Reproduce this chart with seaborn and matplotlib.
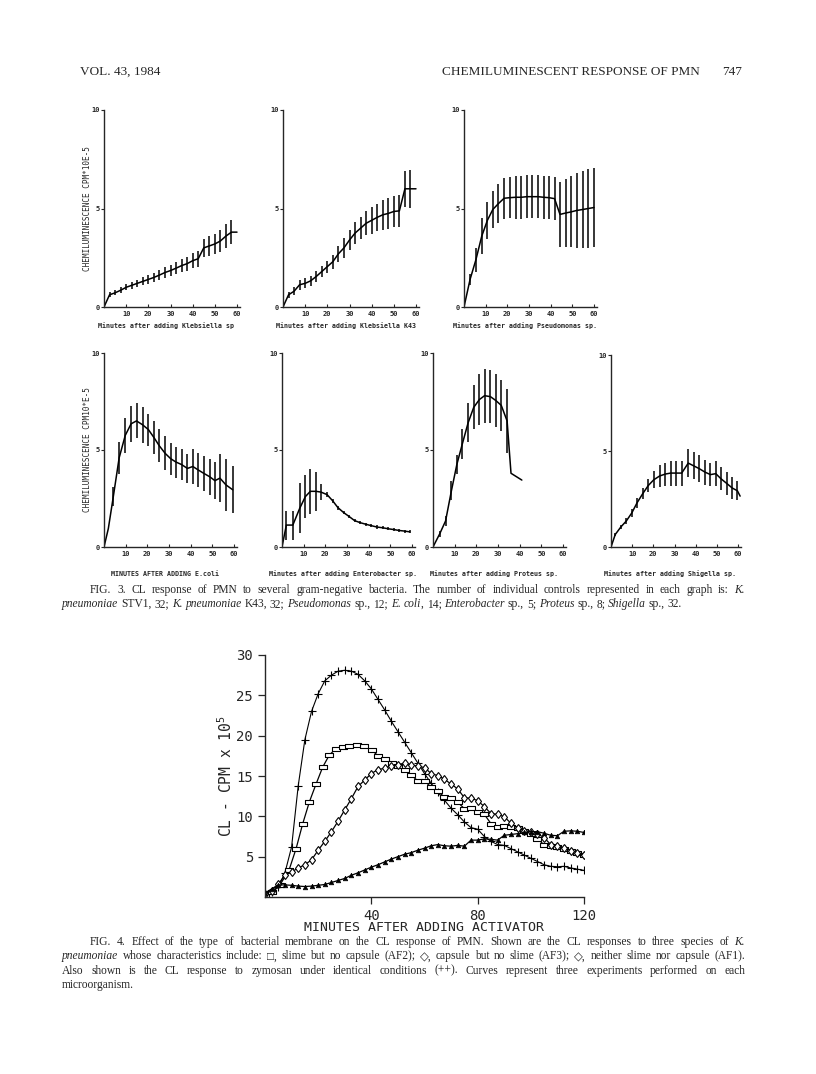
import numpy as np
import matplotlib
matplotlib.use("Agg")
import matplotlib.pyplot as plt
import seaborn as sns

# ---- Fig. 3 data (minutes, CL cpm x 10^-5, +/- bar) ----
kleb_t = [0, 2.5, 5, 7.5, 10, 12.5, 15, 17.5, 20, 22.5, 25, 27.5, 30, 32.5, 35, 37.5, 40, 42.5, 45, 47.5, 50, 52.5, 55, 57.5, 60]
kleb_y = [0, 0.62, 0.72, 0.85, 1.0, 1.1, 1.2, 1.3, 1.4, 1.5, 1.62, 1.75, 1.85, 1.97, 2.1, 2.2, 2.35, 2.45, 3.0, 3.1, 3.2, 3.35, 3.6, 3.8, 3.8]
kleb_e = [0, 0.12, 0.12, 0.15, 0.15, 0.17, 0.18, 0.2, 0.22, 0.24, 0.26, 0.28, 0.3, 0.3, 0.33, 0.35, 0.37, 0.4, 0.45, 0.5, 0.5, 0.55, 0.6, 0.6, 0]

k43_t = [0, 2.5, 5, 7.5, 10, 12.5, 15, 17.5, 20, 22.5, 25, 27.5, 30, 32.5, 35, 37.5, 40, 42.5, 45, 47.5, 50, 52.5, 55, 57.5, 60]
k43_y = [0, 0.62, 0.8, 1.13, 1.2, 1.33, 1.55, 1.8, 2.05, 2.3, 2.7, 3.0, 3.4, 3.75, 4.0, 4.25, 4.4, 4.55, 4.68, 4.75, 4.85, 4.88, 6.0, 6.0, 6.0]
k43_e = [0, 0.15, 0.2, 0.25, 0.25, 0.25, 0.27, 0.3, 0.3, 0.35, 0.4, 0.5, 0.5, 0.55, 0.55, 0.6, 0.7, 0.7, 0.75, 0.8, 0.8, 0.8, 0.9, 0.95, 0]

pseudo_t = [0, 2.8, 5.5, 8.2, 10.8, 13.3, 15.9, 18.5, 21.2, 23.8, 26.4, 29, 31.5, 34.2, 36.7, 39.2, 41.8, 44.3, 46.9, 49.5, 52, 54.8, 57.4, 60]
pseudo_y = [0, 1.4, 2.4, 3.6, 4.4, 4.95, 5.25, 5.52, 5.55, 5.57, 5.57, 5.6, 5.6, 5.6, 5.57, 5.55, 5.5, 4.7, 4.77, 4.83, 4.9, 4.95, 5.0, 5.05]
pseudo_e = [0, 0.3, 0.6, 0.9, 0.95, 0.95, 1.0, 1.05, 1.05, 1.1, 1.1, 1.1, 1.1, 1.1, 1.1, 1.1, 1.1, 1.65, 1.72, 1.8, 1.9, 1.95, 2.0, 2.0]

ecoli_t = [0, 2, 4.3, 7, 9.8, 12.5, 15, 17.8, 20.5, 23, 25.5, 28.2, 30.8, 33.2, 35.8, 38.5, 41, 43.5, 46, 48.8, 51.2, 53.5, 56.3, 59.4]
ecoli_y = [0, 0.95, 2.6, 4.6, 5.75, 6.35, 6.5, 6.3, 6.05, 5.65, 5.22, 4.83, 4.55, 4.38, 4.25, 4.05, 4.15, 3.97, 3.8, 3.62, 3.42, 3.55, 3.2, 2.95]
ecoli_e = [0, 0, 0.5, 0.83, 0.92, 0.93, 0.9, 0.92, 0.83, 0.87, 0.86, 0.88, 0.83, 0.8, 0.8, 0.73, 0.9, 0.88, 0.9, 0.93, 0.97, 1.25, 1.33, 1.2]

entero_t = [0, 2, 5, 8.2, 10.8, 13.1, 15.7, 18, 20.8, 23.4, 25.8, 28.5, 31, 33.5, 36.2, 38.8, 41.2, 43.8, 46.5, 49, 51.5, 54.2, 56.6, 59]
entero_y = [0, 1.13, 1.13, 2.0, 2.6, 2.87, 2.87, 2.83, 2.7, 2.38, 2.03, 1.77, 1.57, 1.36, 1.25, 1.17, 1.1, 1.03, 0.99, 0.94, 0.9, 0.85, 0.82, 0.78]
entero_e = [0, 0.75, 0.75, 1.28, 1.13, 1.15, 1.0, 0.4, 0.12, 0.1, 0.1, 0.08, 0.08, 0.08, 0.08, 0.08, 0.08, 0.08, 0.08, 0.08, 0.08, 0.08, 0.08, 0.08]

proteus_t = [0, 3.1, 5.8, 8.5, 11, 13.5, 16.2, 18.8, 21.4, 23.8, 26.5, 29, 31.5, 34.2, 36, 41]
proteus_y = [0, 0.68, 1.34, 2.9, 4.25, 5.3, 6.4, 7.2, 7.6, 7.8, 7.75, 7.55, 7.3, 6.5, 3.8, 3.45]
proteus_e = [0, 0.17, 0.26, 0.48, 0.48, 0.78, 1.0, 1.13, 1.3, 1.4, 1.37, 1.39, 1.32, 1.67, 0, 0]

shig_t = [0, 2, 4.7, 7.2, 9.8, 12.3, 15, 17.6, 20.2, 23, 25.7, 28.2, 30.9, 33.4, 36.5, 39, 41.7, 44.4, 47, 49.5, 52, 54.8, 57.3, 59.7, 61]
shig_y = [0, 0.65, 1.05, 1.35, 1.77, 2.3, 2.78, 3.2, 3.5, 3.7, 3.8, 3.85, 3.85, 3.85, 4.37, 4.23, 4.08, 3.9, 3.77, 3.82, 3.55, 3.3, 3.07, 2.93, 2.65]
shig_e = [0, 0.08, 0.1, 0.15, 0.2, 0.25, 0.3, 0.35, 0.45, 0.55, 0.6, 0.65, 0.65, 0.65, 0.75, 0.7, 0.7, 0.65, 0.6, 0.65, 0.6, 0.6, 0.55, 0.5, 0]

# ---- Fig. 4 data (minutes, CL cpm x 10^5) ----
grid_t = [0, 2.5, 5, 7.5, 10, 12.5, 15, 17.5, 20, 22.5, 25, 27.5, 30, 32.5, 35, 37.5, 40, 42.5, 45, 47.5,
          50, 52.5, 55, 57.5, 60, 62.5, 65, 67.5, 70, 72.5, 75, 77.5, 80, 82.5, 85, 87.5, 90, 92.5, 95, 97.5,
          100, 102.5, 105, 107.5, 110, 112.5, 115, 117.5, 120]
zymosan = [0.4, 0.6, 1.2, 3.0, 6.2, 13.8, 19.5, 23.0, 25.2, 26.8, 27.5, 28.0, 28.1, 28.0, 27.6, 26.8, 25.8, 24.5, 23.2, 21.8,
           20.5, 19.2, 17.9, 16.6, 15.3, 14.1, 13.0, 12.0, 11.0, 10.2, 9.3, 8.6, 8.4, 7.5, 6.9, 6.5, 6.4, 6.0, 5.6, 5.2,
           4.8, 4.4, 4.0, 3.8, 3.75, 3.8, 3.6, 3.45, 3.3]
af3 = [0.4, 0.8, 1.6, 2.7, 3.1, 3.6, 4.0, 4.6, 5.8, 6.9, 8.1, 9.4, 10.8, 12.2, 13.7, 14.5, 15.3, 15.8, 15.95, 16.3,
       16.4, 16.6, 16.4, 16.2, 16.05, 15.3, 15.05, 14.6, 14.0, 13.4, 12.3, 12.25, 11.95, 11.2, 10.35, 10.25, 9.95, 9.15, 8.55, 8.2,
       8.1, 7.85, 7.35, 6.5, 6.35, 6.05, 5.75, 5.5, 5.15]
af1 = [0.5, 1.0, 1.5, 1.5, 1.45, 1.35, 1.3, 1.35, 1.45, 1.55, 1.8, 2.05, 2.3, 2.7, 3.0, 3.35, 3.7, 4.0, 4.35, 4.7,
       5.0, 5.3, 5.5, 5.8, 6.05, 6.35, 6.5, 6.35, 6.3, 6.4, 6.3, 7.05, 7.05, 7.2, 7.15, 7.05, 7.65, 7.75, 7.85, 8.0,
       8.1, 8.1, 7.9, 7.65, 7.6, 8.15, 8.2, 8.15, 8.0]
af2_t = [0, 2.5, 5.6, 9, 11.7, 14.2, 16.7, 19.2, 21.7, 24.2, 26.7, 29.2, 31.7, 34.5, 37.2, 40.1, 42.6, 45.1, 47.6, 50,
         52.5, 55, 57.5, 60, 62.5, 65, 67.5, 70, 72.5, 75, 77.5, 80, 82.5, 85, 87.5, 90, 92.5, 95, 97.5, 100,
         102.5, 105, 107.5, 110, 112.5, 115, 117.5, 120]
af2 = [0.3, 0.6, 1.5, 3.3, 6.0, 9.1, 11.8, 14.0, 16.1, 17.6, 18.4, 18.65, 18.75, 18.9, 18.75, 18.2, 17.5, 17.1, 16.6, 16.2,
       15.7, 15.1, 14.4, 14.4, 13.6, 13.1, 12.4, 12.25, 11.75, 10.95, 11.05, 10.5, 10.25, 9.1, 8.7, 8.8, 8.7, 8.5, 8.15, 7.8,
       7.25, 6.45, 6.35, 6.25, 6.0, 5.7, 5.5, 5.2]

fig3_caption = [
    "FIG. 3. CL response of PMN to several gram-negative bacteria. The number of individual controls represented in each graph is: _K._",
    "_pneumoniae_ STV1, 32; _K. pneumoniae_ K43, 32; _Pseudomonas_ sp., 12; _E. coli_, 14; _Enterobacter_ sp., 5; _Proteus_ sp., 8; _Shigella_ sp., 32.",
]
fig4_caption = [
    "FIG. 4. Effect of the type of bacterial membrane on the CL response of PMN. Shown are the CL responses to three species of _K._",
    "_pneumoniae_ whose characteristics include: \u25a1, slime but no capsule (AF2); \u25c7, capsule but no slime (AF3); \u25c7, neither slime nor capsule (AF1).",
    "Also shown is the CL response to zymosan under identical conditions (++). Curves represent three experiments performed on each",
    "microorganism.",
]

sns.set_style("ticks")
plt.rcParams['font.family'] = ['DejaVu Sans Mono', 'DejaVu Sans']
plt.rcParams['axes.linewidth'] = 1.0
SERIF = ['Liberation Serif', 'DejaVu Serif']

W, H = 816, 1074
fig = plt.figure(figsize=(W / 100, H / 100), dpi=100)
fig.patch.set_facecolor('white')


def add_px_axes(x0, top, x1, bottom):
    return fig.add_axes([x0 / W, 1 - bottom / H, (x1 - x0) / W, (bottom - top) / H])


def small_panel(x0, top, x60, bottom, t, y, e, xlabel, label_y, ylabel=None):
    xr = x0 + (x60 - x0) * 61.5 / 60
    ax = add_px_axes(x0, top, xr, bottom)
    ax.set_facecolor('none')
    sns.lineplot(x=t, y=y, ax=ax, color='black', lw=1.1, sort=False, errorbar=None)
    t, y, e = np.array(t), np.array(y), np.array(e)
    m = e > 0
    ax.vlines(t[m], (y - e)[m], (y + e)[m], color='black', lw=1.1)
    ax.set_xlim(0, 61.5)
    ax.set_ylim(0, 10)
    ax.set_xticks(range(10, 70, 10))
    ax.set_yticks([0, 5, 10])
    ax.tick_params(axis='x', direction='in', length=2, width=0.8, labelsize=5, pad=3)
    ax.tick_params(axis='y', direction='out', length=2, width=0.8, labelsize=5, pad=1)
    for lab in ax.get_xticklabels() + ax.get_yticklabels():
        lab.set_fontweight('bold')
    ax.set_xlabel('')
    ax.set_ylabel('')
    sns.despine(ax=ax)
    fig.text((x0 + x60) / 2 / W - 4 / W, 1 - label_y / H, xlabel, ha='center', va='center',
             fontsize=4.8, fontweight='bold')
    if ylabel:
        fig.text(87 / W, 1 - (top + bottom) / 2 / H, ylabel, rotation=90, ha='center', va='center',
                 fontsize=5.6)
    return ax


panels = [
    (104, 110, 237, 307, kleb_t, kleb_y, kleb_e, "Minutes after adding Klebsiella sp", 326, "CHEMILUMINESCENCE CPM*10E-5"),
    (283, 110, 416, 307, k43_t, k43_y, k43_e, "Minutes after adding Klebsiella K43", 326, None),
    (464, 110, 594, 307, pseudo_t, pseudo_y, pseudo_e, "Minutes after adding Pseudomonas sp.", 326, None),
    (104, 353, 234, 547, ecoli_t, ecoli_y, ecoli_e, "MINUTES AFTER ADDING E.coli", 574, "CHEMILUMINESCENCE CPM10*E-5"),
    (282, 353, 412, 547, entero_t, entero_y, entero_e, "Minutes after adding Enterobacter sp.", 574, None),
    (433, 353, 563, 547, proteus_t, proteus_y, proteus_e, "Minutes after adding Proteus sp.", 574, None),
    (611, 355, 738, 547, shig_t, shig_y, shig_e, "Minutes after adding Shigella sp.", 574, None),
]
for p in panels:
    small_panel(*p)

# ---- Fig. 4 ----
ax4 = add_px_axes(265, 655, 584, 897)
ax4.set_facecolor('none')
rect = [(-1.8, -0.9), (1.8, -0.9), (1.8, 0.9), (-1.8, 0.9), (-1.8, -0.9)]
sns.lineplot(x=grid_t, y=zymosan, ax=ax4, color='black', lw=0.8, sort=False, errorbar=None,
             marker='+', markersize=5.5, markeredgewidth=0.8, markeredgecolor='black')
sns.lineplot(x=af2_t, y=af2, ax=ax4, color='black', lw=0.9, sort=False, errorbar=None,
             marker=rect, markersize=5.5, markeredgewidth=0.8, markeredgecolor='black', markerfacecolor='white')
sns.lineplot(x=grid_t, y=af3, ax=ax4, color='black', lw=0.9, sort=False, errorbar=None,
             marker='d', markersize=4.5, markeredgewidth=0.8, markeredgecolor='black', markerfacecolor='white')
sns.lineplot(x=grid_t, y=af1, ax=ax4, color='black', lw=0.9, sort=False, errorbar=None,
             marker='^', markersize=3.3, markeredgewidth=0.5, markeredgecolor='black', markerfacecolor='black')
ax4.set_xlim(0, 120)
ax4.set_ylim(0, 30)
ax4.set_xticks([40, 80, 120])
ax4.set_yticks([5, 10, 15, 20, 25, 30])
ax4.tick_params(length=5, width=0.9, labelsize=10)
sns.despine(ax=ax4)
ax4.set_ylabel("CL - CPM x 10$^{\\mathdefault{5}}$", fontsize=10.5)
ax4.yaxis.set_label_coords(-0.094, 0.5)
ax4.set_xlabel("MINUTES AFTER ADDING ACTIVATOR", fontsize=9.5)
ax4.xaxis.set_label_coords(0.5, -0.1)

# ---- page text ----
fig.text(80 / W, 1 - 75 / H, "VOL. 43, 1984", family=SERIF, fontsize=9.5)
fig.text(700 / W, 1 - 75 / H, "CHEMILUMINESCENT RESPONSE OF PMN", family=SERIF, fontsize=9.5, ha='right')
fig.text(742 / W, 1 - 75 / H, "747", family=SERIF, fontsize=9.5, ha='right')

renderer = fig.canvas.get_renderer()
CAP_SIZE = 8.3


def caption_line(line, x0, x1, y, justify, size=CAP_SIZE):
    # shrink the size only if the words would not fit on the line
    while True:
        italic = False
        words = []
        for word in line.split(' '):
            segs = []
            for i, part in enumerate(word.split('_')):
                if i > 0:
                    italic = not italic
                if part:
                    t = fig.text(0, 1 - y / H, part, family=SERIF, fontsize=size,
                                 style='italic' if italic else 'normal', va='baseline')
                    segs.append((t, t.get_window_extent(renderer).width))
            words.append(segs)
        total = sum(w for segs in words for _, w in segs)
        gap = (x1 - x0 - total) / (len(words) - 1) if justify else size * 1.39 * 0.25
        if gap >= 2.2 or size < 7:
            break
        for segs in words:
            for t, _ in segs:
                t.remove()
        size -= 0.1
    x = x0
    for segs in words:
        for t, w in segs:
            t.set_x(x / W)
            x += w
        x += gap


caption_line(fig3_caption[0], 90, 745, 593, True)
caption_line(fig3_caption[1], 62, 745, 607, False)
for i, line in enumerate(fig4_caption):
    caption_line(line, 90 if i == 0 else 62, 745, 945 + i * 14.3, i < 3)

fig.savefig("out.png", dpi=100)
